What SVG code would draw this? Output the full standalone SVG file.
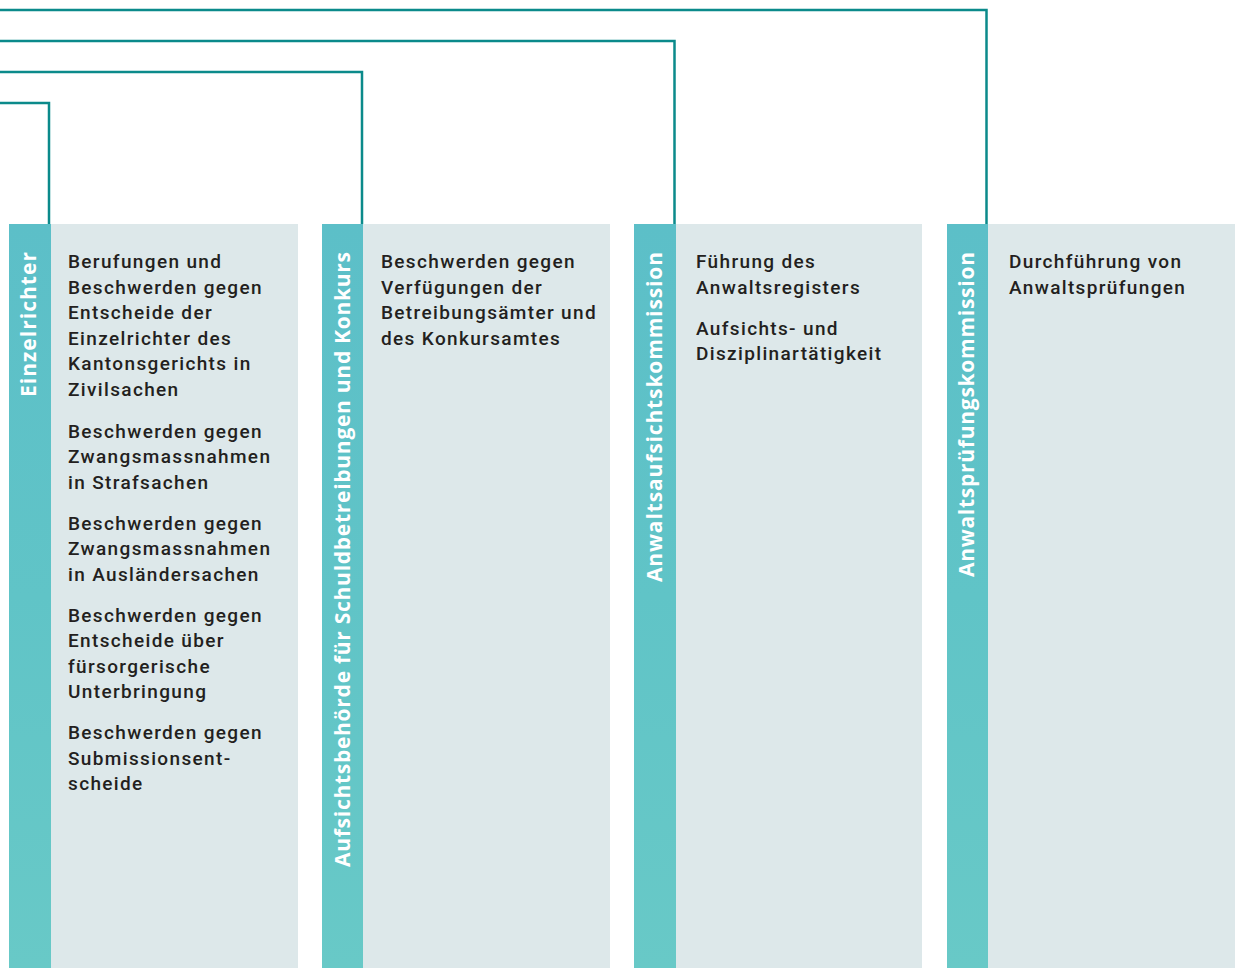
<svg xmlns="http://www.w3.org/2000/svg" width="1235" height="968" viewBox="0 0 1235 968">
<defs>
<linearGradient id="strip" x1="0" y1="0" x2="0" y2="1">
<stop offset="0" stop-color="#5cbfc8"/>
<stop offset="0.5" stop-color="#60c4c7"/>
<stop offset="1" stop-color="#68c9c7"/>
</linearGradient>
<style>
.panel{fill:#dde8ea}
.strip{fill:url(#strip)}
.conn{fill:none;stroke:#0b8a8b;stroke-width:2.5}
.body{font-family:Roboto,"Open Sans","Liberation Sans",sans-serif;font-size:19px;font-weight:500;letter-spacing:1.35px;fill:#231f20}
.head{font-family:"Open Sans","Liberation Sans",sans-serif;font-size:21px;font-weight:bold;fill:#ffffff}
</style>
</defs>
<rect width="1235" height="968" fill="#ffffff"/>
<g id="connectors">
<polyline class="conn" points="0,10 986.5,10 986.5,224"/>
<polyline class="conn" points="0,41 674.5,41 674.5,224"/>
<polyline class="conn" points="0,72 362,72 362,224"/>
<polyline class="conn" points="0,103 49,103 49,224"/>
</g>
<g id="einzelrichter">
<rect class="panel" x="51" y="224" width="247" height="744"/>
<rect class="strip" x="9" y="224" width="42" height="744"/>
<text class="head" transform="translate(36,397) rotate(-90)" textLength="145" lengthAdjust="spacing">Einzelrichter</text>
<text class="body" x="68">
<tspan x="68" y="268">Berufungen und</tspan>
<tspan x="68" y="294">Beschwerden gegen</tspan>
<tspan x="68" y="319">Entscheide der</tspan>
<tspan x="68" y="345">Einzelrichter des</tspan>
<tspan x="68" y="370">Kantonsgerichts in</tspan>
<tspan x="68" y="396">Zivilsachen</tspan>
<tspan x="68" y="438">Beschwerden gegen</tspan>
<tspan x="68" y="463">Zwangsmassnahmen</tspan>
<tspan x="68" y="489">in Strafsachen</tspan>
<tspan x="68" y="530">Beschwerden gegen</tspan>
<tspan x="68" y="555">Zwangsmassnahmen</tspan>
<tspan x="68" y="581">in Ausländersachen</tspan>
<tspan x="68" y="622">Beschwerden gegen</tspan>
<tspan x="68" y="647">Entscheide über</tspan>
<tspan x="68" y="673">fürsorgerische</tspan>
<tspan x="68" y="698">Unterbringung</tspan>
<tspan x="68" y="739">Beschwerden gegen</tspan>
<tspan x="68" y="765">Submissionsent-</tspan>
<tspan x="68" y="790">scheide</tspan>
</text>
</g>
<g id="aufsichtsbehoerde">
<rect class="panel" x="363" y="224" width="247" height="744"/>
<rect class="strip" x="322" y="224" width="41" height="744"/>
<text class="head" transform="translate(350,867) rotate(-90)" textLength="615" lengthAdjust="spacing">Aufsichtsbehörde für Schuldbetreibungen und Konkurs</text>
<text class="body">
<tspan x="381" y="268">Beschwerden gegen</tspan>
<tspan x="381" y="294">Verfügungen der</tspan>
<tspan x="381" y="319">Betreibungsämter und</tspan>
<tspan x="381" y="345">des Konkursamtes</tspan>
</text>
</g>
<g id="anwaltsaufsichtskommission">
<rect class="panel" x="676" y="224" width="246" height="744"/>
<rect class="strip" x="634" y="224" width="42" height="744"/>
<text class="head" transform="translate(662,582) rotate(-90)" textLength="330" lengthAdjust="spacing">Anwaltsaufsichtskommission</text>
<text class="body">
<tspan x="696" y="268">Führung des</tspan>
<tspan x="696" y="294">Anwaltsregisters</tspan>
<tspan x="696" y="335">Aufsichts- und</tspan>
<tspan x="696" y="360">Disziplinartätigkeit</tspan>
</text>
</g>
<g id="anwaltspruefungskommission">
<rect class="panel" x="988" y="224" width="247" height="744"/>
<rect class="strip" x="947" y="224" width="41" height="744"/>
<text class="head" transform="translate(974,577) rotate(-90)" textLength="325" lengthAdjust="spacing">Anwaltsprüfungskommission</text>
<text class="body">
<tspan x="1009" y="268">Durchführung von</tspan>
<tspan x="1009" y="294">Anwaltsprüfungen</tspan>
</text>
</g>
</svg>
